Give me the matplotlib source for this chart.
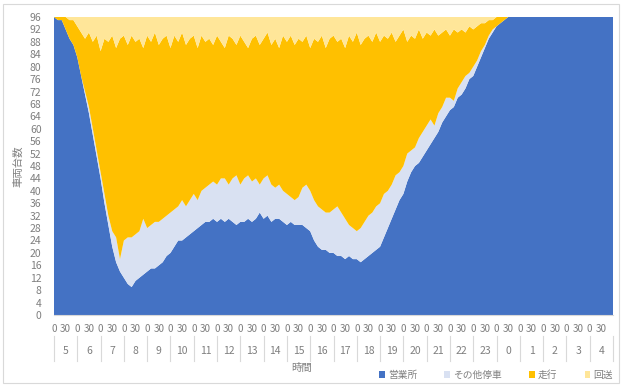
import numpy as np
import matplotlib
matplotlib.use("Agg")
import matplotlib.pyplot as plt
from matplotlib.patches import Rectangle
from matplotlib.lines import Line2D
import matplotlib.transforms as mtransforms

plt.rcParams['font.family'] = ['Noto Sans CJK JP', 'DejaVu Sans']

# 10分ごとの車両台数（5:00〜翌5:00）
minutes = np.arange(0, 1441, 10)
hour_labels = [5, 6, 7, 8, 9, 10, 11, 12, 13, 14, 15, 16, 17, 18, 19, 20, 21, 22, 23, 0, 1, 2, 3, 4]
series_names = ['営業所', 'その他停車', '走行', '回送']

eigyosho = [96, 95, 95, 92, 89, 87, 83, 77, 71, 65,
            58, 51, 44, 36, 29, 22, 17, 14, 12, 10,
            9, 11, 12, 13, 14, 15, 15, 16, 17, 19,
            20, 22, 24, 24, 25, 26, 27, 28, 29, 30,
            30, 31, 30, 31, 30, 31, 30, 29, 30, 30,
            31, 30, 31, 33, 31, 32, 30, 31, 31, 30,
            29, 30, 29, 29, 29, 28, 27, 24, 22, 21,
            21, 20, 20, 19, 19, 18, 19, 18, 18, 17,
            18, 19, 20, 21, 22, 25, 28, 31, 34, 37,
            39, 43, 46, 48, 49, 51, 53, 55, 57, 59,
            62, 64, 66, 67, 70, 71, 73, 76, 77, 80,
            83, 86, 89, 91, 93, 94, 95, 96, 96, 96,
            96, 96, 96, 96, 96, 96, 96, 96, 96, 96,
            96, 96, 96, 96, 96, 96, 96, 96, 96, 96,
            96, 96, 96, 96, 96]

sonota = [0, 0, 0, 0, 0, 0, 0, 0, 1, 2,
          2, 2, 2, 3, 3, 5, 8, 4, 12, 15,
          16, 15, 15, 18, 14, 14, 15, 14, 14, 13,
          13, 12, 11, 13, 10, 11, 12, 9, 11, 11,
          12, 12, 12, 13, 14, 11, 14, 16, 12, 14,
          14, 13, 13, 9, 13, 13, 12, 10, 11, 10,
          10, 8, 8, 9, 12, 14, 13, 13, 13, 13,
          12, 13, 14, 16, 14, 13, 10, 10, 9, 11,
          12, 13, 13, 14, 14, 14, 12, 11, 11, 9,
          9, 9, 7, 6, 8, 8, 8, 8, 4, 6,
          5, 6, 4, 2, 3, 4, 4, 2, 3, 2,
          2, 1, 1, 1, 0, 0, 0, 0, 0, 0,
          0, 0, 0, 0, 0, 0, 0, 0, 0, 0,
          0, 0, 0, 0, 0, 0, 0, 0, 0, 0,
          0, 0, 0, 0, 0]

soko = [0, 1, 1, 4, 6, 8, 10, 14, 17, 24,
        28, 37, 39, 50, 56, 63, 61, 71, 66, 62,
        65, 62, 62, 55, 62, 59, 61, 57, 58, 58,
        53, 56, 53, 54, 52, 52, 51, 49, 50, 47,
        47, 44, 48, 44, 42, 48, 45, 42, 48, 44,
        41, 46, 46, 45, 45, 46, 45, 48, 44, 50,
        49, 52, 50, 51, 47, 48, 46, 52, 53, 56,
        53, 56, 56, 53, 56, 55, 61, 60, 64, 59,
        59, 58, 55, 56, 52, 51, 49, 49, 43, 44,
        44, 36, 37, 35, 35, 30, 30, 27, 31, 25,
        24, 22, 20, 23, 18, 17, 14, 15, 12, 11,
        9, 7, 5, 3, 3, 2, 1, 0, 0, 0,
        0, 0, 0, 0, 0, 0, 0, 0, 0, 0,
        0, 0, 0, 0, 0, 0, 0, 0, 0, 0,
        0, 0, 0, 0, 0]

kaiso = [0, 0, 0, 0, 1, 1, 3, 5, 7, 5,
         8, 6, 11, 7, 8, 6, 10, 7, 6, 9,
         6, 8, 7, 10, 6, 8, 5, 9, 7, 6,
         10, 6, 8, 5, 9, 7, 6, 10, 6, 8,
         7, 9, 6, 8, 10, 6, 7, 9, 6, 8,
         10, 7, 6, 9, 7, 5, 9, 7, 10, 6,
         8, 6, 9, 7, 8, 6, 10, 7, 8, 6,
         10, 7, 6, 8, 7, 10, 6, 8, 5, 9,
         7, 6, 8, 5, 8, 6, 7, 5, 8, 6,
         4, 8, 6, 7, 4, 7, 5, 6, 4, 6,
         5, 4, 6, 4, 5, 4, 5, 3, 4, 3,
         2, 2, 1, 1, 0, 0, 0, 0, 0, 0,
         0, 0, 0, 0, 0, 0, 0, 0, 0, 0,
         0, 0, 0, 0, 0, 0, 0, 0, 0, 0,
         0, 0, 0, 0, 0]

colors = ['#4472C4', '#D9E1F2', '#FFC000', '#FFE699']
grey = '#7F7F7F'

W, H = 622, 387
fig = plt.figure(figsize=(W / 100, H / 100), dpi=100)
ax = fig.add_axes([54 / W, 1 - 315 / H, (613 - 54) / W, (315 - 17) / H])

ax.stackplot(minutes, eigyosho, sonota, soko, kaiso, colors=colors,
             labels=series_names, linewidth=0)

ax.set_xlim(0, 1440)
ax.set_ylim(0, 96)
ax.set_yticks(np.arange(0, 97, 4))
ax.tick_params(axis='y', length=0, labelsize=7.5, labelcolor=grey, pad=9)
ax.set_xticks([])
for s in ['top', 'right', 'left']:
    ax.spines[s].set_visible(False)
ax.spines['bottom'].set_color('#D9D9D9')
ax.spines['bottom'].set_linewidth(0.8)

# 二段のカテゴリ軸（分 / 時）
trans = mtransforms.blended_transform_factory(ax.transData, fig.transFigure)
for i, h in enumerate(hour_labels):
    x0 = i * 60
    ax.text(x0, 1 - 329 / H, '0', transform=trans, ha='center', va='center',
            fontsize=7.2, color=grey)
    ax.text(x0 + 30, 1 - 329 / H, '30', transform=trans, ha='center', va='center',
            fontsize=7.2, color=grey)
    ax.text(x0 + 30, 1 - 351 / H, str(h), transform=trans, ha='center', va='center',
            fontsize=7.5, color=grey)
for i in range(len(hour_labels) + 1):
    fig.add_artist(Line2D([i * 60, i * 60], [1 - 336 / H, 1 - 361 / H],
                          transform=trans, color='#D9D9D9', lw=0.8))

fig.text(302 / W, 1 - 368 / H, '時間', ha='center', va='center', fontsize=7.5, color=grey)
fig.text(18 / W, 1 - 166 / H, '車両台数', ha='center', va='center', rotation=90,
         fontsize=7.5, color=grey)

handles, labels = ax.get_legend_handles_labels()
fig.legend(handles, labels, loc='center', bbox_to_anchor=(496 / W, 1 - 375 / H),
           ncol=4, frameon=False, fontsize=7, labelcolor=grey,
           handlelength=0.6, handleheight=0.6, handletextpad=0.3, columnspacing=2.8)

fig.add_artist(Rectangle((3 / W, 1 - 383 / H), 616 / W, 379 / H, transform=fig.transFigure,
                         fill=False, edgecolor='#D9D9D9', lw=0.8))

fig.savefig('out.png', dpi=100)
